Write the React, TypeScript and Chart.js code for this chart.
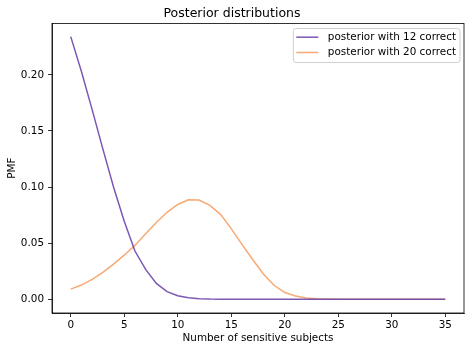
import React, { useEffect, useRef } from "react";
import { Chart, registerables } from "chart.js";

Chart.register(...registerables);

const FONT = "'DejaVu Sans', sans-serif";

const subjects: number[] = Array.from({ length: 36 }, (_, i) => i);

const posterior12: number[] = [
  0.234, 0.203, 0.169, 0.134, 0.1, 0.0695, 0.043, 0.0266, 0.0142, 0.0068,
  0.0032, 0.0014, 0.0006, 0.0002, 0.0001, 0, 0, 0, 0, 0,
  0, 0, 0, 0, 0, 0, 0, 0, 0, 0,
  0, 0, 0, 0, 0, 0,
];

const posterior20: number[] = [
  0.0091, 0.0127, 0.0178, 0.024, 0.0313, 0.0393, 0.048, 0.0585, 0.0685, 0.0775,
  0.0845, 0.0886, 0.0884, 0.0837, 0.0757, 0.063, 0.049, 0.0355, 0.0225, 0.0125,
  0.006, 0.0029, 0.0012, 0.0005, 0.0002, 0.0001, 0, 0, 0, 0,
  0, 0, 0, 0, 0, 0,
];

const seriesLabels: string[] = ["posterior with 12 correct", "posterior with 20 correct"];
const xTicks: number[] = [0, 5, 10, 15, 20, 25, 30, 35];
const yTicks: number[] = [0, 0.05, 0.1, 0.15, 0.2];

const PURPLE = "rgba(110, 70, 172, 0.9)";
const ORANGE = "rgba(245, 140, 68, 0.75)";
const FS = 10.4;

const framePlugin = {
  id: "frame",
  afterDatasetsDraw(chart: any) {
    const { ctx, chartArea } = chart;
    ctx.save();
    ctx.strokeStyle = "#000";
    ctx.lineWidth = 0.8;
    ctx.strokeRect(chartArea.left, chartArea.top, chartArea.right - chartArea.left, chartArea.bottom - chartArea.top);
    ctx.restore();
  },
};

const legendPlugin = {
  id: "mplLegend",
  afterDraw(chart: any) {
    const { ctx, chartArea } = chart;
    ctx.save();
    ctx.font = `${FS}px ${FONT}`;
    const widths = seriesLabels.map((t) => ctx.measureText(t).width);
    const textW = Math.max(...widths);
    const padL = 3;
    const lineLen = 22;
    const gap = 9.5;
    const padR = 4;
    const w = padL + lineLen + gap + textW + padR;
    const h = 34;
    const x = chartArea.right - 4 - w;
    const y = chartArea.top + 5;
    const r = 2.5;
    ctx.beginPath();
    ctx.moveTo(x + r, y);
    ctx.lineTo(x + w - r, y);
    ctx.quadraticCurveTo(x + w, y, x + w, y + r);
    ctx.lineTo(x + w, y + h - r);
    ctx.quadraticCurveTo(x + w, y + h, x + w - r, y + h);
    ctx.lineTo(x + r, y + h);
    ctx.quadraticCurveTo(x, y + h, x, y + h - r);
    ctx.lineTo(x, y + r);
    ctx.quadraticCurveTo(x, y, x + r, y);
    ctx.closePath();
    ctx.fillStyle = "rgba(255,255,255,0.8)";
    ctx.fill();
    ctx.strokeStyle = "#d0d0d0";
    ctx.lineWidth = 1;
    ctx.stroke();
    const colors = [PURPLE, ORANGE];
    seriesLabels.forEach((label, i) => {
      const ly = y + 8.7 + i * 15.3;
      ctx.beginPath();
      ctx.strokeStyle = colors[i];
      ctx.lineWidth = 1.5;
      ctx.moveTo(x + padL, ly);
      ctx.lineTo(x + padL + lineLen, ly);
      ctx.stroke();
      ctx.fillStyle = "#000";
      ctx.textBaseline = "middle";
      ctx.textAlign = "left";
      ctx.fillText(label, x + padL + lineLen + gap, ly);
    });
    ctx.restore();
  },
};

export default function App() {
  const ref = useRef<HTMLCanvasElement | null>(null);

  useEffect(() => {
    if (!ref.current) return;
    const chart = new Chart(ref.current, {
      type: "line",
      data: {
        datasets: [
          {
            label: seriesLabels[0],
            data: subjects.map((x, i) => ({ x, y: posterior12[i] })),
            borderColor: PURPLE,
            borderWidth: 1.5,
            pointRadius: 0,
            tension: 0,
            fill: false,
          },
          {
            label: seriesLabels[1],
            data: subjects.map((x, i) => ({ x, y: posterior20[i] })),
            borderColor: ORANGE,
            borderWidth: 1.5,
            pointRadius: 0,
            tension: 0,
            fill: false,
          },
        ],
      },
      options: {
        responsive: false,
        animation: false,
        devicePixelRatio: 1,
        layout: { padding: { left: 0, right: 8, top: 0, bottom: 0 } },
        plugins: {
          legend: { display: false },
          tooltip: { enabled: false },
          title: {
            display: true,
            text: "Posterior distributions",
            color: "#000",
            font: { family: FONT, size: 12.5, weight: "normal" },
            padding: { top: 6, bottom: 2.5 },
          },
        },
        scales: {
          x: {
            type: "linear",
            min: -1.75,
            max: 36.75,
            afterBuildTicks: (s: any) => {
              s.ticks = xTicks.map((v) => ({ value: v }));
            },
            afterFit: (s: any) => {
              s.height = 39;
            },
            grid: { drawOnChartArea: false, drawTicks: true, tickLength: 4, color: "#000", lineWidth: 0.8 },
            border: { display: true, color: "#000", width: 0.8 },
            ticks: {
              color: "#000",
              font: { family: FONT, size: FS },
              padding: 2,
              maxRotation: 0,
              autoSkip: false,
              callback: (v: any) => String(v),
            },
            title: {
              display: true,
              text: "Number of sensitive subjects",
              color: "#000",
              font: { family: FONT, size: FS },
              padding: { top: 0, bottom: 7 },
            },
          },
          y: {
            type: "linear",
            min: -0.0122,
            max: 0.2457,
            afterBuildTicks: (s: any) => {
              s.ticks = yTicks.map((v) => ({ value: v }));
            },
            afterFit: (s: any) => {
              s.width = 52;
            },
            grid: { drawOnChartArea: false, drawTicks: true, tickLength: 4, color: "#000", lineWidth: 0.8 },
            border: { display: true, color: "#000", width: 0.8 },
            ticks: {
              color: "#000",
              font: { family: FONT, size: FS },
              padding: 4,
              autoSkip: false,
              callback: (v: any) => Number(v).toFixed(2),
            },
            title: {
              display: true,
              text: "PMF",
              color: "#000",
              font: { family: FONT, size: FS },
              padding: { top: 6, bottom: 6 },
            },
          },
        },
      },
      plugins: [framePlugin, legendPlugin],
    } as any);
    return () => chart.destroy();
  }, []);

  return (
    <div style={{ position: "absolute", left: 0, top: 0, width: 472, height: 352, background: "#fff" }}>
      <canvas ref={ref} width={472} height={352} style={{ display: "block", width: 472, height: 352 }} />
    </div>
  );
}
